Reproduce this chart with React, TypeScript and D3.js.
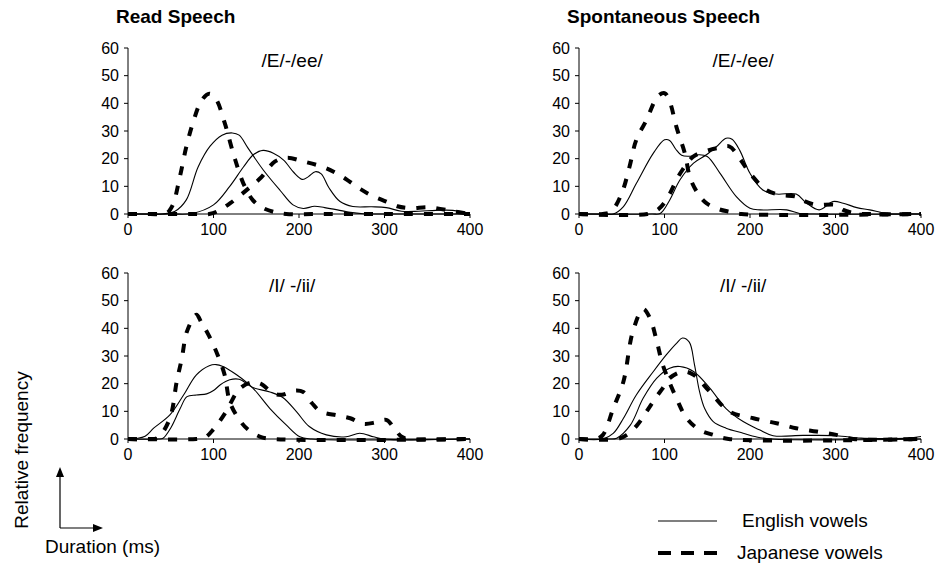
import React from 'react';
import * as d3 from 'd3';

type Pt = [number, number];

// read speech /E/-/ee/
const readE_eng1: Pt[] = [[0,0],[25,0],[40,0],[55,1],[68,5],[82,17],[96,24.5],[110,28.5],[122,29.3],[130,28.5],[140,24],[158,16],[178,8.5],[193,3.3],[205,2],[218,2.8],[230,2.3],[245,1.5],[260,0.6],[275,0.1],[300,0],[350,0],[400,0]];
const readE_eng2: Pt[] = [[0,0],[50,0],[75,0.2],[100,3.3],[119,10],[135,17],[147,21.5],[158,23],[170,22],[182,19.5],[194,15],[204,12.5],[211,13.5],[219,15.3],[226,14.5],[235,9.5],[248,4.5],[263,2.7],[285,2.6],[302,2.3],[320,1],[340,1],[360,1.3],[380,1.3],[400,0]];
const readE_jap1: Pt[] = [[0,0],[25,0],[45,0.3],[52,3],[60,12.5],[68,24],[76,33],[86,41],[95,43.5],[103,41.5],[113,33],[124,21],[135,11],[146,5],[156,2.5],[170,0.8],[185,0],[225,0],[275,0],[325,0],[400,0]];
const readE_jap2: Pt[] = [[0,0],[80,0],[95,0],[105,1],[120,4],[140,9],[155,13],[172,19],[186,20.3],[205,19],[228,17],[245,14.5],[258,12],[272,9],[285,6.7],[302,4.5],[315,2.8],[330,2.1],[353,2.4],[380,1],[400,0]];

// spontaneous speech /E/-/ee/
const spE_eng1: Pt[] = [[0,0],[30,0],[40,0],[52,2.7],[67,11],[87,22],[100,26.8],[106,26.6],[113,23.5],[120,21.2],[130,20.9],[140,21.4],[150,20.8],[165,14.7],[184,6.3],[200,2.1],[212,1.5],[243,1.5],[258,0.2],[275,0],[400,0]];
const spE_eng2: Pt[] = [[0,0],[85,0],[95,0.2],[106,5],[118,12.3],[134,18.4],[149,21.4],[161,24.4],[172,27.4],[179,27],[188,23],[200,14.7],[215,8.7],[231,7.2],[254,7.2],[266,4],[281,1.5],[297,4.5],[309,3.9],[325,2.3],[340,1.5],[360,0.2],[380,0],[400,0]];
const spE_jap1: Pt[] = [[0,0],[28,0],[38,1],[50,7.5],[59,17],[67,26.8],[79,34],[92,42.5],[100,43.7],[106,40.7],[114,31.4],[124,21.7],[130,13],[140,7],[149,3.9],[163,1.8],[176,0.8],[190,0],[400,0]];
const spE_jap2: Pt[] = [[0,0],[80,0],[92,1.5],[102,5],[118,14.5],[134,20.8],[153,23.2],[165,24],[176,24.4],[188,20],[200,14.7],[219,8.7],[235,6.9],[254,6.3],[265,4.5],[278,3.3],[300,3.3],[309,1.5],[322,0.3],[335,0],[400,0]];

// read speech /I/-/ii/
const rdI_eng1: Pt[] = [[0,0],[10,0.2],[20,1],[30,3.9],[49,8.7],[65,15.9],[80,23.2],[95,26.5],[103,26.9],[111,26.2],[127,23.2],[146,18.4],[166,11],[185,5.1],[201,0.8],[215,0],[400,0]];
const rdI_eng2: Pt[] = [[0,0],[35,0],[41,0.3],[50,4],[61,11],[69,15.3],[80,15.9],[92,16.3],[100,17.5],[108,19.6],[119,21.4],[130,21.6],[146,18.6],[166,17],[181,15],[197,9.9],[212,4.5],[232,1.5],[255,0.8],[271,2.1],[287,0.8],[298,0],[400,0]];
const rdI_jap1: Pt[] = [[0,0],[25,0],[35,0.5],[49,7.5],[57,20.8],[63,29.2],[69,38.9],[80,44.9],[86,42],[94,37.7],[104,31],[113,23.2],[119,13.5],[129,7.5],[140,3.5],[154,0.9],[170,0],[400,0]];
const rdI_jap2: Pt[] = [[0,0],[80,0],[90,0.5],[100,3.5],[115,10],[130,18],[145,20.5],[155,20],[170,16.5],[180,16],[195,17.5],[205,17],[215,13],[225,10],[245,8.5],[260,7.5],[275,5.5],[290,6],[302,6.9],[310,4.5],[320,0.8],[330,0],[400,0]];

// spontaneous speech /I/-/ii/
const spI_eng1: Pt[] = [[0,0],[28,0],[40,2],[52,7.5],[67,15.9],[87,24.4],[102,30.4],[114,34.6],[121,36.5],[129,35],[135,27],[141,17.1],[147,11],[157,6.3],[172,3.9],[192,2.1],[207,0.8],[225,0],[400,0]];
const spI_eng2: Pt[] = [[0,0],[35,0],[44,0.3],[60,5],[75,14.7],[91,22],[106,25.6],[118,26.2],[134,24.4],[153,18.4],[172,11],[192,6.3],[211,3.3],[227,1.2],[262,1.3],[301,1.2],[330,0.3],[360,0.2],[385,0.3],[400,0.9]];
const spI_jap1: Pt[] = [[0,0],[20,0],[28,1.5],[40,11],[52,20.8],[63,38.9],[75,47],[83,43.7],[91,35.3],[98,26.8],[114,14.7],[126,7.5],[141,3.3],[157,1.5],[175,0],[400,0]];
const spI_jap2: Pt[] = [[0,0],[45,0],[56,1.5],[68,5],[79,9.9],[90,15],[98,18.4],[106,22],[122,24.4],[134,23.2],[153,17.1],[176,9.9],[204,7.5],[231,5.7],[254,3.9],[278,2.7],[301,1.5],[321,0],[400,0]];

const xTicks = [0, 100, 200, 300, 400];
const yTicks = [0, 10, 20, 30, 40, 50, 60];
const columnTitles = ['Read Speech', 'Spontaneous Speech'];
const vowelLabels = ['/E/-/ee/', '/I/ -/ii/'];

const FONT = "'Liberation Sans', Arial, Helvetica, sans-serif";

function Panel({ left, top, label, eng, jap }: { left: number; top: number; label: string; eng: Pt[][]; jap: Pt[][] }) {
  const x = d3.scaleLinear().domain([0, 400]).range([left, left + 342]);
  const y = d3.scaleLinear().domain([0, 60]).range([top + 166, top]);
  const line = d3.line<Pt>()
    .x(d => x(d[0]))
    .y(d => y(d[1]))
    .curve(d3.curveCatmullRom.alpha(0.5));

  return (
    <g>
      {jap.map((s, i) => (
        <path key={'j' + i} d={line(s) || ''} fill="none" stroke="#000" strokeWidth={4} strokeDasharray="9 11" />
      ))}
      {eng.map((s, i) => (
        <path key={'e' + i} d={line(s) || ''} fill="none" stroke="#000" strokeWidth={1.1} />
      ))}
      {/* axes */}
      <line x1={x(0)} x2={x(400)} y1={y(0)} y2={y(0)} stroke="#000" strokeWidth={1} />
      <line x1={x(0)} x2={x(0)} y1={y(0)} y2={y(60)} stroke="#000" strokeWidth={1} />
      {xTicks.map(t => (
        <g key={'x' + t}>
          <line x1={x(t)} x2={x(t)} y1={y(0)} y2={y(0) + 4} stroke="#000" />
          <text x={x(t)} y={y(0) + 21} textAnchor="middle" fontSize={16} fontFamily={FONT}>{t}</text>
        </g>
      ))}
      {yTicks.map(t => (
        <g key={'y' + t}>
          <line x1={x(0) - 4} x2={x(0)} y1={y(t)} y2={y(t)} stroke="#000" />
          <text x={x(0) - 9} y={y(t) + 5.5} textAnchor="end" fontSize={16} fontFamily={FONT}>{t}</text>
        </g>
      ))}
      <text x={x(192)} y={y(60) + 19} textAnchor="middle" fontSize={19} fontFamily={FONT}>{label}</text>
    </g>
  );
}

export default function App() {
  return (
    <svg width={940} height={565} style={{ position: 'absolute', left: 0, top: 0, background: '#fff' }}>
      <rect width={940} height={565} fill="#fff" />
      <text x={116} y={23} fontSize={19} fontWeight="bold" fontFamily={FONT}>{columnTitles[0]}</text>
      <text x={567} y={23} fontSize={19} fontWeight="bold" fontFamily={FONT}>{columnTitles[1]}</text>

      <Panel left={128} top={48} label={vowelLabels[0]} eng={[readE_eng1, readE_eng2]} jap={[readE_jap1, readE_jap2]} />
      <Panel left={579} top={48} label={vowelLabels[0]} eng={[spE_eng1, spE_eng2]} jap={[spE_jap1, spE_jap2]} />
      <Panel left={128} top={273} label={vowelLabels[1]} eng={[rdI_eng1, rdI_eng2]} jap={[rdI_jap1, rdI_jap2]} />
      <Panel left={579} top={273} label={vowelLabels[1]} eng={[spI_eng1, spI_eng2]} jap={[spI_jap1, spI_jap2]} />

      {/* axis key */}
      <text transform="translate(28,450) rotate(-90)" textAnchor="middle" fontSize={19} fontFamily={FONT}>Relative frequency</text>
      <line x1={60} x2={60} y1={528} y2={475} stroke="#000" strokeWidth={1.2} />
      <polygon points="60,467 56,477 64,477" fill="#000" />
      <line x1={60} x2={95} y1={528} y2={528} stroke="#000" strokeWidth={1.2} />
      <polygon points="103,528 93,524 93,532" fill="#000" />
      <text x={45} y={553} fontSize={19} fontFamily={FONT}>Duration (ms)</text>

      {/* legend */}
      <line x1={658} x2={717} y1={521} y2={521} stroke="#000" strokeWidth={1.1} />
      <text x={742} y={527} fontSize={19} fontFamily={FONT}>English vowels</text>
      <line x1={658} x2={717} y1={553} y2={553} stroke="#000" strokeWidth={4} strokeDasharray="13 10" />
      <text x={737} y={559} fontSize={19} fontFamily={FONT}>Japanese vowels</text>
    </svg>
  );
}
